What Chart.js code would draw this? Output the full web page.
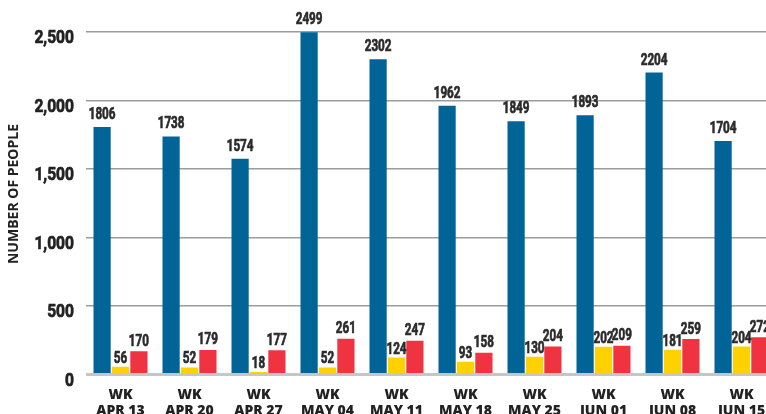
<!DOCTYPE html>
<html>
<head>
<meta charset="utf-8">
<script src="https://cdn.jsdelivr.net/npm/chart.js@4/dist/chart.umd.min.js"></script>
<style>
  html, body { margin: 0; padding: 0; background: #fff; overflow: hidden; }
  #wrap { width: 766px; height: 414px; overflow: hidden; }
</style>
</head>
<body>
<div id="wrap"><canvas id="myChart" width="776" height="430"></canvas></div>
<script>
// weekly counts
const weeks = [["WK", "APR 13"], ["WK", "APR 20"], ["WK", "APR 27"], ["WK", "MAY 04"], ["WK", "MAY 11"],
               ["WK", "MAY 18"], ["WK", "MAY 25"], ["WK", "JUN 01"], ["WK", "JUN 08"], ["WK", "JUN 15"]];
const blueValues = [1806, 1738, 1574, 2499, 2302, 1962, 1849, 1893, 2204, 1704];
const yellowValues = [56, 52, 18, 52, 124, 93, 130, 202, 181, 204];
const redValues = [170, 179, 177, 261, 247, 158, 204, 209, 259, 272];
const yTicks = [0, 500, 1000, 1500, 2000, 2500];
const yTitle = "NUMBER OF PEOPLE";

const wide = '"Open Sans", "DejaVu Sans", sans-serif';
const labelGap = [8, 4, 5.5];

// condensed look: Roboto squeezed sideways, a bit heavier
function narrowText(ctx, txt, x, y, size, squeeze, align) {
  ctx.save();
  ctx.translate(x, y);
  ctx.scale(squeeze, 1);
  ctx.font = "bold " + size + "px Roboto, sans-serif";
  ctx.textAlign = align;
  ctx.lineWidth = 0.7;
  ctx.strokeStyle = ctx.fillStyle;
  ctx.fillText(txt, 0, 0);
  ctx.strokeText(txt, 0, 0);
  ctx.restore();
}

const textLayer = {
  id: "textLayer",
  afterDatasetsDraw(chart) {
    const ctx = chart.ctx;
    ctx.save();
    ctx.fillStyle = "#2b2b2b";
    ctx.textBaseline = "alphabetic";
    chart.data.datasets.forEach((ds, i) => {
      chart.getDatasetMeta(i).data.forEach((bar, j) => {
        narrowText(ctx, String(ds.data[j]), bar.x, bar.y - labelGap[i], 16, 0.73, "center");
      });
    });
    // y tick labels
    const y = chart.scales.y;
    ctx.fillStyle = "#222";
    ctx.textBaseline = "middle";
    y.ticks.forEach(t => {
      narrowText(ctx, t.value.toLocaleString("en-US"), 74, y.getPixelForValue(t.value) + 6.5, 19, 0.82, "right");
    });
    // y title
    ctx.translate(14.5, 194);
    ctx.rotate(-Math.PI / 2);
    ctx.font = "bold 14px " + wide;
    ctx.textAlign = "center";
    ctx.fillText(yTitle, 0, 0);
    ctx.restore();
  }
};

new Chart("myChart", {
  type: "bar",
  data: {
    labels: weeks,
    datasets: [
      { data: blueValues, backgroundColor: "#006496" },
      { data: yellowValues, backgroundColor: "#ffd100" },
      { data: redValues, backgroundColor: "#ef3340" }
    ]
  },
  options: {
    responsive: false,
    animation: false,
    devicePixelRatio: 1,
    datasets: { bar: { categoryPercentage: 0.8, barPercentage: 0.935 } },
    layout: { padding: { top: 32, right: 0, bottom: 0, left: 0 } },
    plugins: { legend: { display: false }, tooltip: { enabled: false } },
    scales: {
      x: {
        grid: { display: false },
        border: { display: false },
        ticks: {
          color: "#222",
          padding: 4,
          font: { family: wide, size: 14, weight: "800", lineHeight: 1.18 },
          maxRotation: 0,
          autoSkip: false
        },
        afterFit(scale) { scale.height = 430 - 374.5; }
      },
      y: {
        min: 0,
        max: 2500,
        afterBuildTicks(scale) { scale.ticks = yTicks.map(v => ({ value: v })); },
        grid: {
          drawTicks: false,
          color: c => c.tick && c.tick.value === 0 ? "#c6c6c6" : "#9c9c9c",
          lineWidth: c => c.tick && c.tick.value === 0 ? 3 : 1.5
        },
        border: { display: false },
        ticks: { display: false },
        afterFit(scale) { scale.width = 86; }
      }
    }
  },
  plugins: [textLayer]
});
</script>
</body>
</html>
